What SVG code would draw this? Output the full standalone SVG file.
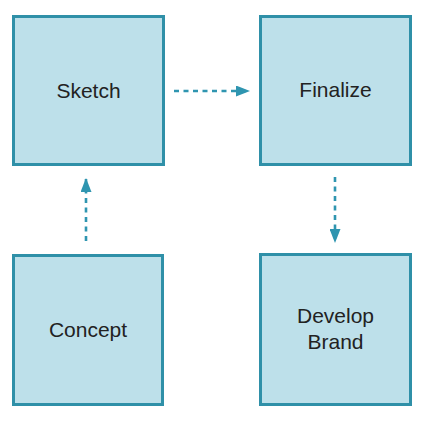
<svg xmlns="http://www.w3.org/2000/svg" width="422" height="422" viewBox="0 0 422 422">
<style>
.box{fill:#bde0ea;stroke:#2f90a8;stroke-width:3}
.lbl{font-family:"Liberation Sans",Arial,sans-serif;font-size:21px;fill:#222;text-anchor:middle}
.con{stroke:#2f95b0;stroke-width:2.6;stroke-dasharray:5 4.5;fill:none}
</style>
<defs>
<marker id="ah" viewBox="0 0 14 11" refX="13" refY="5.5" markerWidth="14" markerHeight="11" markerUnits="userSpaceOnUse" orient="auto">
<path d="M0,0 L14,5.5 L0,11 z" fill="#2f95b0"/>
</marker>
</defs>
<rect width="422" height="422" fill="#fff"/>
<g id="connectors">
<line class="con" x1="174" y1="91" x2="249" y2="91" marker-end="url(#ah)"/>
<line class="con" x1="86" y1="241" x2="86" y2="179" marker-end="url(#ah)"/>
<line class="con" x1="335" y1="177" x2="335" y2="242" marker-end="url(#ah)"/>
</g>
<g id="sketch">
<rect class="box" x="13.5" y="16.5" width="150" height="148"/>
<text class="lbl" x="88.5" y="98">Sketch</text>
</g>
<g id="finalize">
<rect class="box" x="260.5" y="16.5" width="150" height="148"/>
<text class="lbl" x="335.5" y="97">Finalize</text>
</g>
<g id="concept">
<rect class="box" x="13.5" y="255.5" width="149" height="149"/>
<text class="lbl" x="88" y="337">Concept</text>
</g>
<g id="develop-brand">
<rect class="box" x="260.5" y="254.5" width="150" height="150"/>
<text class="lbl" x="335.5" y="323">Develop</text>
<text class="lbl" x="335.5" y="349">Brand</text>
</g>
</svg>
